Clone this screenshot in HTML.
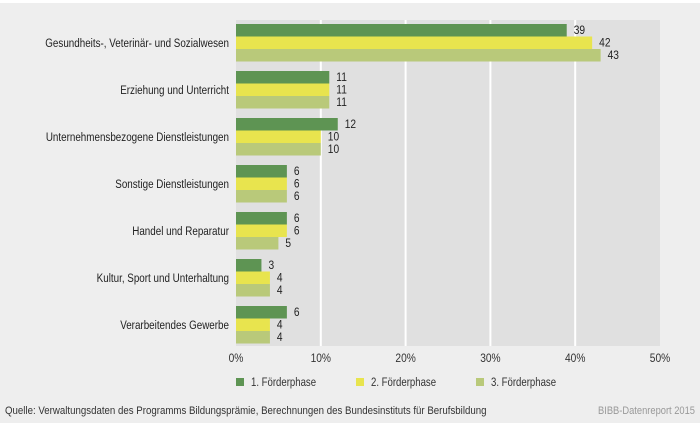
<!DOCTYPE html>
<html><head><meta charset="utf-8"><style>
body{margin:0;background:#fff;width:700px;height:425px;overflow:hidden;font-family:"Liberation Sans",sans-serif;}
svg text{font-family:"Liberation Sans",sans-serif;}
</style></head><body>
<svg id="chart" width="700" height="425">
<rect x="0" y="3" width="700" height="420" fill="#eeeeee"/>
<rect x="236" y="20" width="424" height="326" fill="#e0e0e0"/>
<g id="grid"></g><g id="bars"></g><g id="labels"></g>
<g>
<rect x="236" y="378" width="8" height="8" fill="#5e9453"/>
<text transform="translate(251,386) scale(0.8,1)" font-size="12" fill="#333">1. Förderphase</text>
<rect x="356" y="378" width="8" height="8" fill="#e8e44e"/>
<text transform="translate(371,386) scale(0.8,1)" font-size="12" fill="#333">2. Förderphase</text>
<rect x="476" y="378" width="8" height="8" fill="#b9c97a"/>
<text transform="translate(491,386) scale(0.8,1)" font-size="12" fill="#333">3. Förderphase</text>
</g>
<text transform="translate(5,414) scale(0.88,1)" font-size="11" fill="#333">Quelle: Verwaltungsdaten des Programms Bildungsprämie, Berechnungen des Bundesinstituts für Berufsbildung</text>
<text transform="translate(695,414) scale(0.85,1)" font-size="11" fill="#999" text-anchor="end">BIBB-Datenreport 2015</text>
</svg>
<script>
const categories=["Gesundheits-, Veterinär- und Sozialwesen","Erziehung und Unterricht","Unternehmensbezogene Dienstleistungen","Sonstige Dienstleistungen","Handel und Reparatur","Kultur, Sport und Unterhaltung","Verarbeitendes Gewerbe"];
const phase1=[39,11,12,6,6,3,6];
const phase2=[42,11,10,6,6,4,4];
const phase3=[43,11,10,6,5,4,4];
const ticks=[0,10,20,30,40,50];
const tickLabels=["0%","10%","20%","30%","40%","50%"];
const ns="http://www.w3.org/2000/svg";
const x=v=>236+v*8.48;
const gy=i=>24+i*47;
const BH=12.5;
function mk(t,a,p){const e=document.createElementNS(ns,t);for(const k in a)e.setAttribute(k,a[k]);p.appendChild(e);return e;}
const grid=document.getElementById('grid'),bars=document.getElementById('bars'),labels=document.getElementById('labels');
ticks.forEach((t,i)=>{
  if(t>0&&t<50){const l=mk('line',{x1:x(t),x2:x(t),y1:20,y2:346,stroke:'#fff','stroke-width':2},grid);
  
  }
  const tx=mk('text',{transform:'translate('+x(t)+',362) scale(0.85,1)','font-size':12,fill:'#333','text-anchor':'middle'},labels);
  tx.textContent=tickLabels[i];
  
  
});
const series=[phase1,phase2,phase3],colors=['#5e9453','#e8e44e','#b9c97a'];
categories.forEach((c,i)=>{
  const ct=mk('text',{transform:'translate(229,'+(gy(i)+23)+') scale(0.82,1)','font-size':12,fill:'#222','text-anchor':'end'},labels);
  ct.textContent=c;
  
  
  series.forEach((s,j)=>{
    const y=gy(i)+j*BH;
    const r=mk('rect',{x:x(0),y:y,width:x(s[i])-x(0),height:BH,fill:colors[j]},bars);
    
    
    const v=mk('text',{transform:'translate('+(x(s[i])+7)+','+(y+10)+') scale(0.85,1)','font-size':12,fill:'#222'},labels);
    v.textContent=s[i];
    
    
  });
});
</script>
</body></html>
